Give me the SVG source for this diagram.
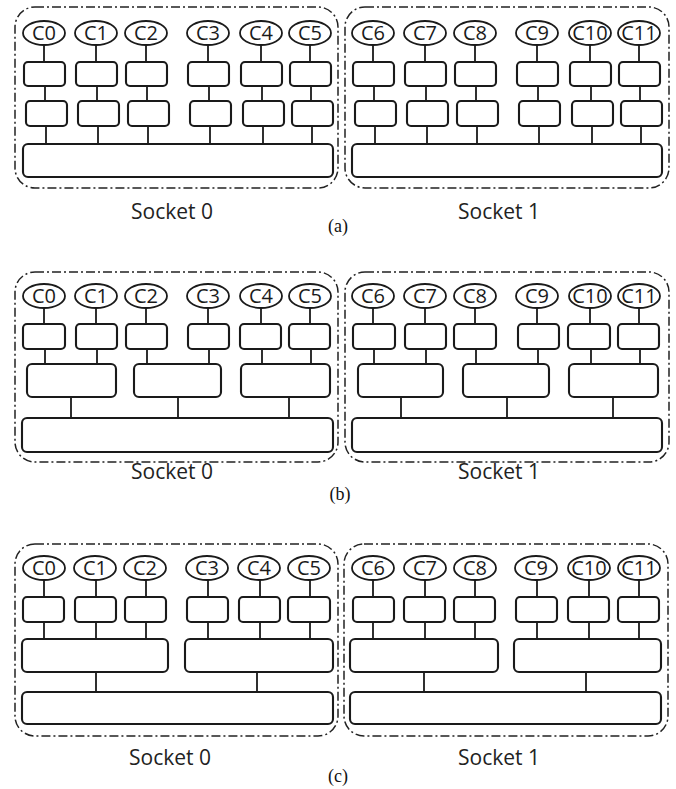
<svg xmlns="http://www.w3.org/2000/svg" width="676" height="789" viewBox="0 0 676 789">
<style>
.bg{fill:#fff}
.sock{fill:none;stroke:#222;stroke-width:1.5;stroke-dasharray:9 3 2 3}
.core{fill:#fff;stroke:#1a1a1a;stroke-width:1.8}
.box{fill:#fff;stroke:#1a1a1a;stroke-width:2.1}
.conn{fill:none;stroke:#1a1a1a;stroke-width:1.8}
.cl{font-family:"Open Sans","Liberation Sans",sans-serif;font-size:20px;fill:#1a1a1a;text-anchor:middle}
.sl{font-family:"Open Sans","Liberation Sans",sans-serif;font-size:21px;fill:#222;text-anchor:middle}
.pl{font-family:"Liberation Serif",serif;font-size:18px;fill:#111;text-anchor:middle}
</style>
<rect class="bg" x="0" y="0" width="676" height="789"/>

<!-- ================= Panel (a) ================= -->
<g id="panel-a">
<g id="a-s0"><rect class="sock" x="15" y="7" width="323" height="181" rx="20"/></g>
<g id="a-s1"><rect class="sock" x="345" y="7" width="324" height="181" rx="20"/></g>
<g id="a-connectors">
<path class="conn" d="M44 45V62M45 86V101M46 126V144 M96 45V62M97 86V101M98 126V144 M146 45V62M147 86V101M148 126V144 M208 45V62M209 86V101M210 126V144 M261 45V62M262 86V101M263 126V144 M310 45V62M311 86V101M312 126V144"/>
<path class="conn" d="M373 45V62M374 86V101M375 126V144 M425 45V62M426 86V101M427 126V144 M475 45V62M476 86V101M477 126V144 M537 45V62M538 86V101M539 126V144 M590 45V62M591 86V101M592 126V144 M639 45V62M640 86V101M641 126V144"/>
</g>
<g id="a-c0"><ellipse class="core" cx="44" cy="33" rx="21" ry="12"/><text class="cl" x="44" y="40">C0</text></g>
<g id="a-c1"><ellipse class="core" cx="96" cy="33" rx="21" ry="12"/><text class="cl" x="96" y="40">C1</text></g>
<g id="a-c2"><ellipse class="core" cx="146" cy="33" rx="21" ry="12"/><text class="cl" x="146" y="40">C2</text></g>
<g id="a-c3"><ellipse class="core" cx="208" cy="33" rx="21" ry="12"/><text class="cl" x="208" y="40">C3</text></g>
<g id="a-c4"><ellipse class="core" cx="261" cy="33" rx="21" ry="12"/><text class="cl" x="261" y="40">C4</text></g>
<g id="a-c5"><ellipse class="core" cx="310" cy="33" rx="21" ry="12"/><text class="cl" x="310" y="40">C5</text></g>
<g id="a-c6"><ellipse class="core" cx="373" cy="33" rx="21" ry="12"/><text class="cl" x="373" y="40">C6</text></g>
<g id="a-c7"><ellipse class="core" cx="425" cy="33" rx="21" ry="12"/><text class="cl" x="425" y="40">C7</text></g>
<g id="a-c8"><ellipse class="core" cx="475" cy="33" rx="21" ry="12"/><text class="cl" x="475" y="40">C8</text></g>
<g id="a-c9"><ellipse class="core" cx="537" cy="33" rx="21" ry="12"/><text class="cl" x="537" y="40">C9</text></g>
<g id="a-c10"><ellipse class="core" cx="590" cy="33" rx="21" ry="12"/><text class="cl" x="590" y="40">C10</text></g>
<g id="a-c11"><ellipse class="core" cx="639" cy="33" rx="21" ry="12"/><text class="cl" x="639" y="40">C11</text></g>
<g id="a-l1-0"><rect class="box" x="24" y="62" width="41" height="24" rx="4"/></g>
<g id="a-l1-1"><rect class="box" x="76" y="62" width="41" height="24" rx="4"/></g>
<g id="a-l1-2"><rect class="box" x="126" y="62" width="41" height="24" rx="4"/></g>
<g id="a-l1-3"><rect class="box" x="188" y="62" width="41" height="24" rx="4"/></g>
<g id="a-l1-4"><rect class="box" x="241" y="62" width="41" height="24" rx="4"/></g>
<g id="a-l1-5"><rect class="box" x="290" y="62" width="41" height="24" rx="4"/></g>
<g id="a-l1-6"><rect class="box" x="353" y="62" width="41" height="24" rx="4"/></g>
<g id="a-l1-7"><rect class="box" x="405" y="62" width="41" height="24" rx="4"/></g>
<g id="a-l1-8"><rect class="box" x="455" y="62" width="41" height="24" rx="4"/></g>
<g id="a-l1-9"><rect class="box" x="517" y="62" width="41" height="24" rx="4"/></g>
<g id="a-l1-10"><rect class="box" x="570" y="62" width="41" height="24" rx="4"/></g>
<g id="a-l1-11"><rect class="box" x="619" y="62" width="41" height="24" rx="4"/></g>
<g id="a-l2-0"><rect class="box" x="26" y="101" width="41" height="25" rx="4"/></g>
<g id="a-l2-1"><rect class="box" x="78" y="101" width="41" height="25" rx="4"/></g>
<g id="a-l2-2"><rect class="box" x="128" y="101" width="41" height="25" rx="4"/></g>
<g id="a-l2-3"><rect class="box" x="190" y="101" width="41" height="25" rx="4"/></g>
<g id="a-l2-4"><rect class="box" x="243" y="101" width="41" height="25" rx="4"/></g>
<g id="a-l2-5"><rect class="box" x="292" y="101" width="41" height="25" rx="4"/></g>
<g id="a-l2-6"><rect class="box" x="355" y="101" width="41" height="25" rx="4"/></g>
<g id="a-l2-7"><rect class="box" x="407" y="101" width="41" height="25" rx="4"/></g>
<g id="a-l2-8"><rect class="box" x="457" y="101" width="41" height="25" rx="4"/></g>
<g id="a-l2-9"><rect class="box" x="519" y="101" width="41" height="25" rx="4"/></g>
<g id="a-l2-10"><rect class="box" x="572" y="101" width="41" height="25" rx="4"/></g>
<g id="a-l2-11"><rect class="box" x="621" y="101" width="41" height="25" rx="4"/></g>
<g id="a-mem0"><rect class="box" x="23" y="144" width="310" height="33" rx="5"/></g>
<g id="a-mem1"><rect class="box" x="352" y="144" width="310" height="33" rx="5"/></g>
<text class="sl" x="172" y="219">Socket 0</text>
<text class="sl" x="499" y="219">Socket 1</text>
<text class="pl" x="338" y="232">(a)</text>
</g>

<!-- ================= Panel (b) ================= -->
<g id="panel-b">
<g id="b-s0"><rect class="sock" x="15" y="272" width="323" height="190" rx="20"/></g>
<g id="b-s1"><rect class="sock" x="345" y="272" width="324" height="190" rx="20"/></g>
<g id="b-connectors">
<path class="conn" d="M44 308V324M45 349V364 M96 308V324M97 349V364 M146 308V324M147 349V364 M208 308V324M209 349V364 M261 308V324M262 349V364 M310 308V324M311 349V364 M71 397V418M178 397V418M289 397V418"/>
<path class="conn" d="M373 308V324M374 349V364 M425 308V324M426 349V364 M475 308V324M476 349V364 M537 308V324M538 349V364 M590 308V324M591 349V364 M639 308V324M640 349V364 M401 397V418M507 397V418M613 397V418"/>
</g>
<g id="b-c0"><ellipse class="core" cx="44" cy="296" rx="21" ry="12"/><text class="cl" x="44" y="303">C0</text></g>
<g id="b-c1"><ellipse class="core" cx="96" cy="296" rx="21" ry="12"/><text class="cl" x="96" y="303">C1</text></g>
<g id="b-c2"><ellipse class="core" cx="146" cy="296" rx="21" ry="12"/><text class="cl" x="146" y="303">C2</text></g>
<g id="b-c3"><ellipse class="core" cx="208" cy="296" rx="21" ry="12"/><text class="cl" x="208" y="303">C3</text></g>
<g id="b-c4"><ellipse class="core" cx="261" cy="296" rx="21" ry="12"/><text class="cl" x="261" y="303">C4</text></g>
<g id="b-c5"><ellipse class="core" cx="310" cy="296" rx="21" ry="12"/><text class="cl" x="310" y="303">C5</text></g>
<g id="b-c6"><ellipse class="core" cx="373" cy="296" rx="21" ry="12"/><text class="cl" x="373" y="303">C6</text></g>
<g id="b-c7"><ellipse class="core" cx="425" cy="296" rx="21" ry="12"/><text class="cl" x="425" y="303">C7</text></g>
<g id="b-c8"><ellipse class="core" cx="475" cy="296" rx="21" ry="12"/><text class="cl" x="475" y="303">C8</text></g>
<g id="b-c9"><ellipse class="core" cx="537" cy="296" rx="21" ry="12"/><text class="cl" x="537" y="303">C9</text></g>
<g id="b-c10"><ellipse class="core" cx="590" cy="296" rx="21" ry="12"/><text class="cl" x="590" y="303">C10</text></g>
<g id="b-c11"><ellipse class="core" cx="639" cy="296" rx="21" ry="12"/><text class="cl" x="639" y="303">C11</text></g>
<g id="b-l1-0"><rect class="box" x="23" y="324" width="42" height="25" rx="4"/></g>
<g id="b-l1-1"><rect class="box" x="76" y="324" width="41" height="25" rx="4"/></g>
<g id="b-l1-2"><rect class="box" x="126" y="324" width="41" height="25" rx="4"/></g>
<g id="b-l1-3"><rect class="box" x="188" y="324" width="41" height="25" rx="4"/></g>
<g id="b-l1-4"><rect class="box" x="240" y="324" width="41" height="25" rx="4"/></g>
<g id="b-l1-5"><rect class="box" x="289" y="324" width="41" height="25" rx="4"/></g>
<g id="b-l1-6"><rect class="box" x="353" y="324" width="42" height="25" rx="4"/></g>
<g id="b-l1-7"><rect class="box" x="405" y="324" width="41" height="25" rx="4"/></g>
<g id="b-l1-8"><rect class="box" x="454" y="324" width="42" height="25" rx="4"/></g>
<g id="b-l1-9"><rect class="box" x="518" y="324" width="41" height="25" rx="4"/></g>
<g id="b-l1-10"><rect class="box" x="568" y="324" width="42" height="25" rx="4"/></g>
<g id="b-l1-11"><rect class="box" x="618" y="324" width="41" height="25" rx="4"/></g>
<g id="b-l2-0"><rect class="box" x="27" y="364" width="89" height="33" rx="5"/></g>
<g id="b-l2-1"><rect class="box" x="134" y="364" width="87" height="33" rx="5"/></g>
<g id="b-l2-2"><rect class="box" x="241" y="364" width="89" height="33" rx="5"/></g>
<g id="b-l2-3"><rect class="box" x="358" y="364" width="85" height="33" rx="5"/></g>
<g id="b-l2-4"><rect class="box" x="463" y="364" width="86" height="33" rx="5"/></g>
<g id="b-l2-5"><rect class="box" x="569" y="364" width="89" height="33" rx="5"/></g>
<g id="b-mem0"><rect class="box" x="22" y="418" width="311" height="34" rx="5"/></g>
<g id="b-mem1"><rect class="box" x="352" y="418" width="310" height="34" rx="5"/></g>
<text class="sl" x="172" y="479">Socket 0</text>
<text class="sl" x="499" y="479">Socket 1</text>
<text class="pl" x="340" y="500">(b)</text>
</g>

<!-- ================= Panel (c) ================= -->
<g id="panel-c">
<g id="c-s0"><rect class="sock" x="15" y="544" width="323" height="192" rx="20"/></g>
<g id="c-s1"><rect class="sock" x="344" y="544" width="324" height="192" rx="20"/></g>
<g id="c-connectors">
<path class="conn" d="M44 580V597M44 622V639 M96 580V597M96 622V639 M146 580V597M146 622V639 M208 580V597M208 622V639 M260 580V597M260 622V639 M310 580V597M310 622V639 M96 672V692M257 672V692"/>
<path class="conn" d="M373 580V597M373 622V639 M425 580V597M425 622V639 M475 580V597M475 622V639 M537 580V597M537 622V639 M589 580V597M589 622V639 M639 580V597M639 622V639 M424 672V692M586 672V692"/>
</g>
<g id="c-c0"><ellipse class="core" cx="44" cy="568" rx="21" ry="12"/><text class="cl" x="44" y="575">C0</text></g>
<g id="c-c1"><ellipse class="core" cx="95" cy="568" rx="21" ry="12"/><text class="cl" x="95" y="575">C1</text></g>
<g id="c-c2"><ellipse class="core" cx="145" cy="568" rx="21" ry="12"/><text class="cl" x="145" y="575">C2</text></g>
<g id="c-c3"><ellipse class="core" cx="207" cy="568" rx="21" ry="12"/><text class="cl" x="207" y="575">C3</text></g>
<g id="c-c4"><ellipse class="core" cx="259" cy="568" rx="21" ry="12"/><text class="cl" x="259" y="575">C4</text></g>
<g id="c-c5"><ellipse class="core" cx="309" cy="568" rx="21" ry="12"/><text class="cl" x="309" y="575">C5</text></g>
<g id="c-c6"><ellipse class="core" cx="373" cy="568" rx="21" ry="12"/><text class="cl" x="373" y="575">C6</text></g>
<g id="c-c7"><ellipse class="core" cx="425" cy="568" rx="21" ry="12"/><text class="cl" x="425" y="575">C7</text></g>
<g id="c-c8"><ellipse class="core" cx="475" cy="568" rx="21" ry="12"/><text class="cl" x="475" y="575">C8</text></g>
<g id="c-c9"><ellipse class="core" cx="536" cy="568" rx="21" ry="12"/><text class="cl" x="536" y="575">C9</text></g>
<g id="c-c10"><ellipse class="core" cx="589" cy="568" rx="21" ry="12"/><text class="cl" x="589" y="575">C10</text></g>
<g id="c-c11"><ellipse class="core" cx="639" cy="568" rx="21" ry="12"/><text class="cl" x="639" y="575">C11</text></g>
<g id="c-l1-0"><rect class="box" x="23" y="597" width="41" height="25" rx="4"/></g>
<g id="c-l1-1"><rect class="box" x="75" y="597" width="41" height="25" rx="4"/></g>
<g id="c-l1-2"><rect class="box" x="125" y="597" width="41" height="25" rx="4"/></g>
<g id="c-l1-3"><rect class="box" x="187" y="597" width="41" height="25" rx="4"/></g>
<g id="c-l1-4"><rect class="box" x="239" y="597" width="41" height="25" rx="4"/></g>
<g id="c-l1-5"><rect class="box" x="288" y="597" width="42" height="25" rx="4"/></g>
<g id="c-l1-6"><rect class="box" x="353" y="597" width="41" height="25" rx="4"/></g>
<g id="c-l1-7"><rect class="box" x="404" y="597" width="41" height="25" rx="4"/></g>
<g id="c-l1-8"><rect class="box" x="454" y="597" width="41" height="25" rx="4"/></g>
<g id="c-l1-9"><rect class="box" x="516" y="597" width="41" height="25" rx="4"/></g>
<g id="c-l1-10"><rect class="box" x="568" y="597" width="41" height="25" rx="4"/></g>
<g id="c-l1-11"><rect class="box" x="618" y="597" width="41" height="25" rx="4"/></g>
<g id="c-l2-0"><rect class="box" x="22" y="639" width="146" height="33" rx="5"/></g>
<g id="c-l2-1"><rect class="box" x="185" y="639" width="148" height="33" rx="5"/></g>
<g id="c-l2-2"><rect class="box" x="350" y="639" width="148" height="33" rx="5"/></g>
<g id="c-l2-3"><rect class="box" x="514" y="639" width="147" height="33" rx="5"/></g>
<g id="c-mem0"><rect class="box" x="22" y="692" width="311" height="32" rx="5"/></g>
<g id="c-mem1"><rect class="box" x="350" y="692" width="311" height="32" rx="5"/></g>
<text class="sl" x="170" y="765">Socket 0</text>
<text class="sl" x="499" y="765">Socket 1</text>
<text class="pl" x="338" y="782">(c)</text>
</g>
</svg>
